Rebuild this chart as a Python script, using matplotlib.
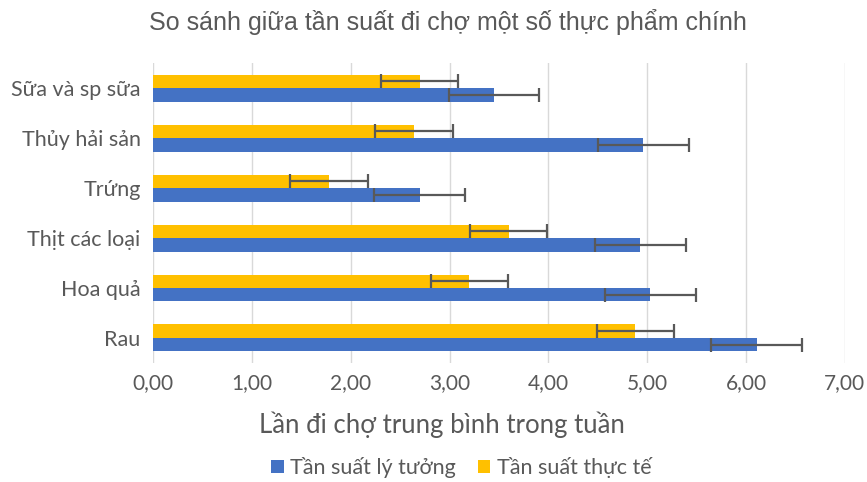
import matplotlib
matplotlib.use("Agg")
import matplotlib.pyplot as plt
import numpy as np

# ---- データ ----
categories = ["Rau", "Hoa quả", "Thịt các loại", "Trứng", "Thủy hải sản", "Sữa và sp sữa"]
ideal = [6.11, 5.03, 4.93, 2.70, 4.96, 3.45]
ideal_err = [0.46, 0.46, 0.46, 0.46, 0.46, 0.46]
actual = [4.88, 3.20, 3.60, 1.78, 2.64, 2.70]
actual_err = [0.39, 0.39, 0.39, 0.39, 0.39, 0.39]
xticks = [0, 1, 2, 3, 4, 5, 6, 7]

BLUE = "#4472C4"
YELLOW = "#FFC000"
GREY = "#595959"
TXT = "#595959"

plt.rcParams['font.family'] = ['Lato', 'DejaVu Sans']

fig = plt.figure(figsize=(8.67, 4.82), dpi=100)
ax = fig.add_axes([0.1765, 0.247, 0.798, 0.622])

y = np.arange(len(categories))
h = 0.27
ekw = dict(ecolor=GREY, elinewidth=1.6, capsize=5, capthick=1.6)
ax.barh(y - h/2, ideal, height=h, color=BLUE, xerr=ideal_err,
        error_kw=ekw, label="Tần suất lý tưởng", zorder=2)
ax.barh(y + h/2, actual, height=h, color=YELLOW, xerr=actual_err,
        error_kw=ekw, label="Tần suất thực tế", zorder=2)

ax.set_xlim(0, 7)
ax.set_ylim(-0.5, len(categories) - 0.5)
ax.set_xticks(xticks)
ax.set_xticklabels([f"{v:.2f}".replace(".", ",") for v in xticks], fontsize=15, color=TXT)
ax.set_yticks(y)
ax.set_yticklabels(categories, fontsize=15.5, color=TXT)
ax.tick_params(axis="y", length=0, pad=9)
ax.tick_params(axis="x", length=0, pad=7)
ax.grid(axis="x", color="#D9D9D9", lw=1, zorder=0)
for s in ax.spines.values():
    s.set_visible(False)

# 軸タイトル（Excel風にチャート中央寄り）
fig.text(0.51, 0.118, "Lần đi chợ trung bình trong tuần", ha="center", va="center",
         fontsize=18.5, color=TXT)
fig.text(0.517, 0.955, "So sánh giữa tần suất đi chợ một số thực phẩm chính",
         ha="center", va="center", fontsize=18, color=TXT,
         family=["Liberation Sans", "DejaVu Sans"])

fig.legend(loc="center", bbox_to_anchor=(0.532, 0.03), ncol=2, frameon=False,
           fontsize=15.5, handlelength=0.6, handleheight=0.6, columnspacing=1.0,
           handletextpad=0.3, labelcolor=TXT)

fig.savefig("out.png", dpi=100)
